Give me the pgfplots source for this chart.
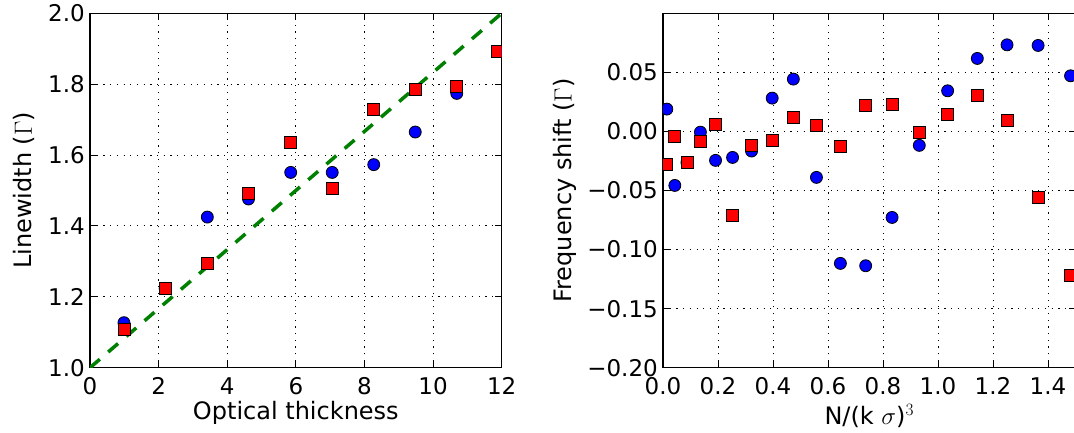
\documentclass[border=0pt]{standalone}
\usepackage{pgfplots}
\pgfplotsset{compat=1.18}
\usepackage{fontspec}
\setmainfont{DejaVu Sans}
\definecolor{mplgreen}{rgb}{0,0.5,0}

\pgfplotsset{
  mystyle/.style={
    scale only axis,
    axis line style={line width=1.3pt},
    tick style={line width=0.9pt, black},
    major tick length=7pt,
    tick align=inside,
    xtick pos=both, ytick pos=both,
    grid=major,
    major grid style={black, line width=0.9pt, dash pattern=on 1.2pt off 5.5pt},
    every tick label/.append style={font=\fontsize{23}{27}\selectfont, inner sep=0pt},
    xticklabel style={yshift=-10pt},
    yticklabel style={xshift=-5pt},
    label style={font=\fontsize{24}{28}\selectfont, inner sep=0pt},
    clip marker paths=true,
  },
  bluedot/.style={only marks, mark=*, mark size=6pt, mark options={fill=blue, draw=black, line width=0.8pt}},
  redsq/.style={only marks, mark=square*, mark size=6pt, mark options={fill=red, draw=black, line width=0.8pt}},
}

\begin{document}
\begin{tikzpicture}
\path[use as bounding box, clip] (0,0) rectangle (1074pt,432pt);

\begin{axis}[mystyle,
  at={(90pt,64.3pt)}, anchor=south west,
  width=411.7pt, height=354.4pt,
  xmin=0, xmax=12, ymin=1.0, ymax=2.0,
  xtick={0,2,4,6,8,10,12}, xticklabels={0,2,4,6,8,10,12},
  ytick={1.0,1.2,1.4,1.6,1.8,2.0}, yticklabels={1.0,1.2,1.4,1.6,1.8,2.0},
  xlabel={Optical thickness},
  ylabel={Linewidth ($\Gamma$)},
  xlabel style={at={(axis description cs:0.5,-0.146)}, anchor=base},
  ylabel style={at={(axis description cs:-0.1409,0.5)}, anchor=base},
]
\addplot[mplgreen, line width=3.5pt, dash pattern=on 13pt off 11pt] coordinates {(0,1) (12,2)};
\addplot[bluedot] coordinates {
(0.99,1.127) (2.19,1.224) (3.42,1.425) (4.62,1.476) (5.85,1.551)
(7.06,1.551) (8.27,1.573) (9.48,1.665) (10.69,1.774) (11.88,1.892)};
\addplot[redsq] coordinates {
(0.99,1.108) (2.19,1.224) (3.42,1.293) (4.62,1.492) (5.85,1.635)
(7.06,1.505) (8.27,1.730) (9.48,1.784) (10.69,1.795) (11.88,1.892)};
\end{axis}

\begin{axis}[mystyle,
  at={(663pt,64.3pt)}, anchor=south west,
  width=412.5pt, height=354.4pt,
  xmin=0, xmax=1.5, ymin=-0.2, ymax=0.1,
  xtick={0,0.2,0.4,0.6,0.8,1.0,1.2,1.4}, xticklabels={0.0,0.2,0.4,0.6,0.8,1.0,1.2,1.4},
  ytick={-0.2,-0.15,-0.1,-0.05,0,0.05}, yticklabels={−0.20,−0.15,−0.10,−0.05,0.00,0.05},
  xlabel={N/(k $\sigma$)$^3$},
  ylabel={Frequency shift ($\Gamma$)},
  xlabel style={at={(axis description cs:0.5,-0.159)}, anchor=base},
  ylabel style={at={(axis description cs:-0.2213,0.5)}, anchor=base},
]
\addplot[bluedot] coordinates {
(0.014,0.0189) (0.043,-0.0457) (0.087,-0.0262) (0.136,-0.0006) (0.191,-0.0245)
(0.253,-0.0220) (0.322,-0.0166) (0.397,0.0282) (0.474,0.0443) (0.558,-0.0389)
(0.645,-0.1117) (0.737,-0.1137) (0.833,-0.0728) (0.932,-0.0118) (1.035,0.0344)
(1.143,0.0618) (1.251,0.0733) (1.364,0.0728) (1.482,0.0471)};
\addplot[redsq] coordinates {
(0.014,-0.0279) (0.043,-0.0042) (0.087,-0.0262) (0.136,-0.0085) (0.191,0.0059)
(0.253,-0.0714) (0.322,-0.0118) (0.397,-0.0079) (0.474,0.0116) (0.558,0.0051)
(0.645,-0.0127) (0.737,0.0220) (0.833,0.0228) (0.932,-0.0011) (1.035,0.0141)
(1.143,0.0302) (1.251,0.0090) (1.364,-0.0559) (1.482,-0.1221)};
\end{axis}
\end{tikzpicture}
\end{document}
